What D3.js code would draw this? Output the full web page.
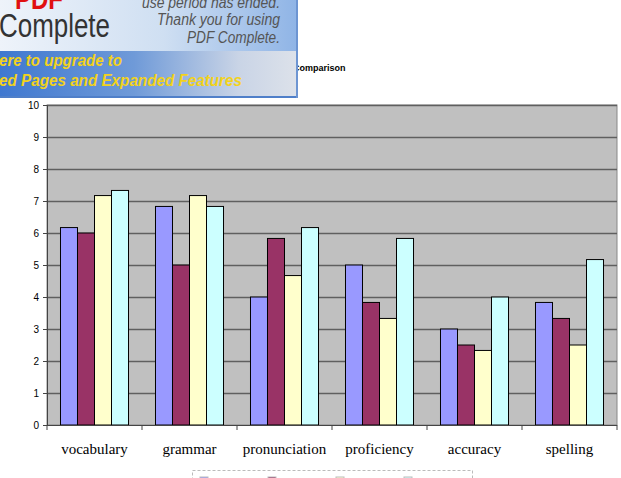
<!DOCTYPE html>
<html><head><meta charset="utf-8">
<script src="https://cdn.jsdelivr.net/npm/d3@7"></script>
<style>body{margin:0;background:#fff}svg{display:block}</style>
</head><body>
<script>
const categories = ["vocabulary","grammar","pronunciation","proficiency","accuracy","spelling"];
const seriesNames = ["Teacher","Excellent","Average","Total"];
const s1 = [6.17, 6.83, 4.0, 5.0, 3.0, 3.83];
const s2 = [6.0, 5.0, 5.83, 3.83, 2.5, 3.33];
const s3 = [7.17, 7.17, 4.67, 3.33, 2.33, 2.5];
const s4 = [7.33, 6.83, 6.17, 5.83, 4.0, 5.17];
const colors = ["#9999FF","#993366","#FFFFCC","#CCFFFF"];
const yTicks = [0,1,2,3,4,5,6,7,8,9,10];
const series = [s1,s2,s3,s4];

(function(){
const W=621,H=478;
const svg=d3.select("body").append("svg").attr("width",W).attr("height",H);
const pL=47,pR=617,pT=105,pB=425;
const x=d3.scaleBand().domain(categories).range([pL,pR]).paddingInner(0.284).paddingOuter(0.142);
const x0=d3.scaleBand().domain(categories).range([pL,pR]);
const xs=d3.scaleBand().domain(d3.range(4)).range([0,x.bandwidth()]);
const y=d3.scaleLinear().domain([0,10]).range([pB,pT]);

// title (partly hidden by banner)
svg.append("text").attr("x",293).attr("y",71).attr("font-family","Liberation Sans, Arial").attr("font-size",9).attr("font-weight","bold").text("Comparison");

// plot area
svg.append("rect").attr("x",pL).attr("y",pT).attr("width",pR-pL).attr("height",pB-pT).attr("fill","#C0C0C0").attr("stroke","#888").attr("stroke-width",1);
svg.append("g").selectAll("line").data(yTicks.slice(1)).join("line")
 .attr("x1",pL).attr("x2",pR).attr("y1",d=>Math.round(y(d))+0.5).attr("y2",d=>Math.round(y(d))+0.5)
 .attr("stroke","#5f5f5f").attr("stroke-width",1.3);

// bars
const g=svg.append("g");
categories.forEach((c,i)=>{
  series.forEach((s,j)=>{
    g.append("rect").attr("x",x(c)+xs(j)).attr("y",y(s[i])).attr("width",xs.bandwidth()).attr("height",y(0)-y(s[i]))
     .attr("fill",colors[j]).attr("stroke","#000").attr("stroke-width",1);
  });
});

// y axis
const ya=d3.axisLeft(y).tickValues(yTicks).tickSize(4).tickPadding(4);
const yg=svg.append("g").attr("transform",`translate(${pL},0)`).call(ya);
yg.select(".domain").attr("stroke","#444");
yg.selectAll(".tick line").attr("stroke","#444");
yg.selectAll("text").attr("font-family","Liberation Sans, Arial").attr("font-size",10).attr("fill","#000");

// x axis
svg.append("line").attr("x1",pL).attr("x2",pR).attr("y1",pB+0.5).attr("y2",pB+0.5).attr("stroke","#444");
svg.append("g").selectAll("line").data(categories.concat(["end"])).join("line")
 .attr("x1",(d,i)=>pL+i*x0.bandwidth()).attr("x2",(d,i)=>pL+i*x0.bandwidth())
 .attr("y1",pB).attr("y2",pB+5).attr("stroke","#444");
svg.append("g").selectAll("text").data(categories).join("text")
 .attr("x",d=>x0(d)+x0.bandwidth()/2).attr("y",454).attr("text-anchor","middle")
 .attr("font-family","Liberation Serif, Times New Roman").attr("font-size",15).text(d=>d);

// legend (cut off at bottom)
svg.append("rect").attr("x",192.5).attr("y",470.5).attr("width",280).attr("height",30).attr("fill","none").attr("stroke","#bbb").attr("stroke-dasharray","3,2");
const lg=svg.append("g");
seriesNames.forEach((n,j)=>{
  lg.append("rect").attr("x",200+j*68).attr("y",477).attr("width",8).attr("height",8).attr("fill",colors[j]).attr("stroke","#bbb");
  lg.append("text").attr("x",212+j*68).attr("y",486).attr("font-family","Liberation Sans, Arial").attr("font-size",11).attr("fill","#bbb").text(n);
});

// PDF Complete banner overlay
const defs=svg.append("defs");
const g1=defs.append("linearGradient").attr("id","gTop");
g1.append("stop").attr("offset","0%").attr("stop-color","#eef3fa");
g1.append("stop").attr("offset","55%").attr("stop-color","#cfdff2");
g1.append("stop").attr("offset","100%").attr("stop-color","#8fb4e6");
const g2=defs.append("linearGradient").attr("id","gBot");
g2.append("stop").attr("offset","0%").attr("stop-color","#3f78d0");
g2.append("stop").attr("offset","45%").attr("stop-color","#6f9ad8");
g2.append("stop").attr("offset","80%").attr("stop-color","#c9d4e6");
g2.append("stop").attr("offset","100%").attr("stop-color","#dde2ea");
const b=svg.append("g");
b.append("rect").attr("x",0).attr("y",0).attr("width",298).attr("height",51).attr("fill","url(#gTop)");
b.append("rect").attr("x",0).attr("y",51).attr("width",298).attr("height",46).attr("fill","url(#gBot)");
b.append("rect").attr("x",0).attr("y",96).attr("width",298).attr("height",2).attr("fill","#4f7fc9");
b.append("rect").attr("x",296).attr("y",0).attr("width",2).attr("height",98).attr("fill","#6d95d2");
b.append("text").attr("x",15).attr("y",9).attr("font-family","Liberation Sans, Arial").attr("font-weight","bold").attr("font-size",30).attr("fill","#e01010")
 .attr("textLength",48).attr("lengthAdjust","spacingAndGlyphs").text("PDF");
b.append("text").attr("x",-1).attr("y",37).attr("font-family","Liberation Sans, Arial").attr("font-size",33).attr("fill","#333")
 .attr("textLength",111).attr("lengthAdjust","spacingAndGlyphs").text("Complete");
[["use period has ended.",8,142],["Thank you for using",25,157],["PDF Complete.",43,187]].forEach(t=>{
  b.append("text").attr("x",t[2]).attr("y",t[1]).attr("font-family","Liberation Sans, Arial").attr("font-style","italic").attr("font-size",16).attr("fill","#555")
   .attr("textLength",280-t[2]).attr("lengthAdjust","spacingAndGlyphs").text(t[0]);
});
b.append("text").attr("x",-1).attr("y",66).attr("font-family","Liberation Sans, Arial").attr("font-style","italic").attr("font-weight","bold").attr("font-size",16).attr("fill","#f2d21c")
 .attr("textLength",123).attr("lengthAdjust","spacingAndGlyphs").text("ere to upgrade to");
b.append("text").attr("x",-1).attr("y",86).attr("font-family","Liberation Sans, Arial").attr("font-style","italic").attr("font-weight","bold").attr("font-size",16).attr("fill","#f2d21c")
 .attr("textLength",243).attr("lengthAdjust","spacingAndGlyphs").text("ed Pages and Expanded Features");
})();
</script>
</body></html>
